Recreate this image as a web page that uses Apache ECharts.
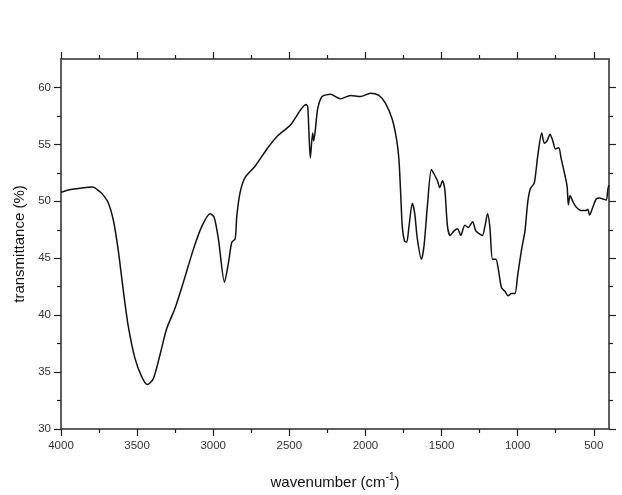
<!DOCTYPE html>
<html>
<head>
<meta charset="utf-8">
<script src="https://cdn.jsdelivr.net/npm/echarts@6/dist/echarts.min.js"></script>
<style>
  html, body { margin: 0; padding: 0; background: #fff; }
</style>
</head>
<body>
<div id="chart" style="width: 622px; height: 495px;"></div>
<script>
// wavenumber (cm-1) and transmittance (%)
const wavenumbers = [
  4000, 3950, 3900, 3850, 3800, 3780, 3760, 3740, 3720, 3690, 3657, 3625, 3592, 3559, 3514,
  3470, 3433, 3394, 3350, 3306, 3251, 3196, 3130, 3075, 3020, 2994, 2966, 2926,
  2900, 2878, 2856, 2845, 2823, 2790, 2724, 2647, 2581, 2493, 2390, 2379, 2362,
  2347, 2340, 2329, 2314, 2285, 2230, 2164, 2098, 2032, 1966, 1912, 1868, 1824,
  1795, 1780, 1769, 1758, 1743, 1729, 1714, 1692, 1677, 1659, 1632, 1615, 1593,
  1567, 1549, 1527, 1512, 1494, 1479, 1461, 1444, 1418, 1395, 1374, 1347, 1325,
  1296, 1275, 1246, 1231, 1215, 1198, 1183, 1165, 1143, 1128, 1106, 1084, 1062,
  1040, 1018, 1000, 974, 952, 934, 917, 891, 868, 842, 825, 807, 787, 769, 752,
  730, 715, 688, 675, 667, 656, 638, 616, 583, 550, 539, 528, 506, 484, 462,
  440, 418, 407, 400
];
const transmittance = [
  50.8, 51.0, 51.1, 51.2, 51.25, 51.2, 51.0, 50.8, 50.5, 49.9, 48.4, 45.8, 42.3, 39.1, 36.2,
  34.6, 33.9, 34.4, 36.5, 38.8, 40.6, 42.9, 45.8, 47.8, 48.9, 48.6, 46.7, 42.9,
  44.6, 46.4, 46.7, 48.7, 50.8, 52.1, 53.1, 54.6, 55.7, 56.7, 58.5, 58.3, 53.8,
  56.0, 55.3, 56.3, 58.1, 59.2, 59.4, 59.0, 59.3, 59.2, 59.5, 59.3, 58.6, 57.2,
  55.4, 53.7, 50.8, 47.8, 46.5, 46.4, 47.8, 49.8, 49.0, 46.7, 44.9, 46.1, 49.6,
  52.8, 52.4, 51.8, 51.2, 51.8, 51.1, 47.8, 47.0, 47.4, 47.6, 47.0, 47.9, 47.7,
  48.2, 47.4, 47.1, 47.0, 47.8, 48.9, 47.8, 44.9, 44.9, 44.1, 42.4, 42.1, 41.7,
  41.9, 41.9, 43.5, 45.8, 47.4, 49.9, 51.1, 51.6, 54.0, 56.0, 55.1, 55.3, 55.9, 55.3, 54.6,
  54.7, 53.8, 52.2, 51.3, 49.7, 50.5, 50.0, 49.5, 49.2, 49.2, 49.3, 48.8, 49.5, 50.2, 50.3,
  50.2, 50.1, 51.1, 51.4
];
const xMajorTicks = [4000, 3500, 3000, 2500, 2000, 1500, 1000, 500];
const xMinorTicks = [3750, 3250, 2750, 2250, 1750, 1250, 750];
const yMajorTicks = [30, 35, 40, 45, 50, 55, 60];
const yMinorTicks = [32.5, 37.5, 42.5, 47.5, 52.5, 57.5];

const chart = echarts.init(document.getElementById('chart'));

const lineStyle = { color: '#555', width: 1.5 };
const labelFont = { fontFamily: 'Liberation Sans', fontSize: 11.5, color: '#333' };

function xAxisDef(pos, ticks, len, withLabel) {
  return {
    type: 'value', position: pos, min: 400, max: 4000, inverse: true,
    axisLine: { show: true, onZero: false, lineStyle: lineStyle },
    axisTick: { show: true, length: len, customValues: ticks, lineStyle: { color: '#222', width: 1.2 } },
    axisLabel: withLabel
      ? Object.assign({ show: true, customValues: ticks, margin: 11, formatter: v => String(v) }, labelFont)
      : { show: false },
    splitLine: { show: false }
  };
}
function yAxisDef(pos, ticks, len, withLabel) {
  return {
    type: 'value', position: pos, min: 30, max: 62.5,
    axisLine: { show: true, onZero: false, lineStyle: lineStyle },
    axisTick: { show: true, length: len, customValues: ticks, lineStyle: { color: '#222', width: 1.2 } },
    axisLabel: withLabel
      ? Object.assign({ show: true, customValues: ticks, margin: 10, formatter: v => String(v) }, labelFont)
      : { show: false },
    splitLine: { show: false }
  };
}

const xMain = xAxisDef('bottom', xMajorTicks, 7, true);
xMain.name = '{a|wavenumber (cm}{s|-1}{a|)}';
xMain.nameLocation = 'middle';
xMain.nameGap = 43;
xMain.nameTextStyle = {
  rich: {
    a: { fontFamily: 'Liberation Sans', fontSize: 15, color: '#111', verticalAlign: 'bottom', lineHeight: 18 },
    s: { fontFamily: 'Liberation Sans', fontSize: 10, color: '#111', verticalAlign: 'top', lineHeight: 18, padding: [0, 0, 8, 0] }
  }
};

const yMain = yAxisDef('left', yMajorTicks, 7, true);
yMain.name = 'transmittance (%)';
yMain.nameLocation = 'middle';
yMain.nameGap = 31;
yMain.nameTextStyle = { fontFamily: 'Liberation Sans', fontSize: 15, color: '#111' };

const option = {
  animation: false,
  backgroundColor: '#fff',
  grid: { left: 61, right: 13, top: 59, bottom: 64 },
  xAxis: [
    xMain,
    xAxisDef('bottom', xMinorTicks, 4, false),
    xAxisDef('top', xMajorTicks, 7, false),
    xAxisDef('top', xMinorTicks, 4, false)
  ],
  yAxis: [
    yMain,
    yAxisDef('left', yMinorTicks, 4, false),
    yAxisDef('right', yMajorTicks, 7, false),
    yAxisDef('right', yMinorTicks, 4, false)
  ],
  series: [
    {
      type: 'line',
      xAxisIndex: 0,
      yAxisIndex: 0,
      data: wavenumbers.map((w, i) => [w, transmittance[i]]),
      showSymbol: false,
      smooth: 0.25,
      lineStyle: { color: '#111', width: 1.5 }
    }
  ]
};

option && chart.setOption(option);
</script>
</body>
</html>
